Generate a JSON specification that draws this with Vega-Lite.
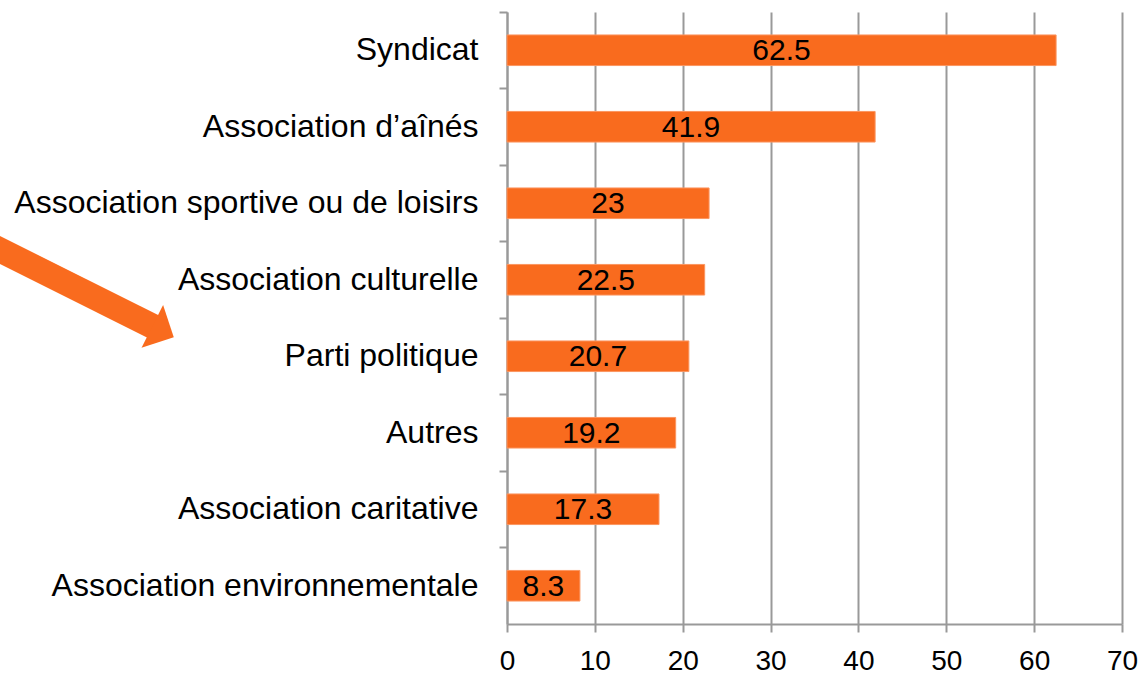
{
  "$schema": "https://vega.github.io/schema/vega-lite/v6.json",
  "autosize": {"type": "none"},
  "padding": {"left": 507, "top": 12, "right": 22, "bottom": 51},
  "width": 615,
  "height": 612,
  "background": "white",
  "config": {
    "view": {"stroke": null},
    "font": "Liberation Sans",
    "axis": {
      "labelFont": "Liberation Sans",
      "labelColor": "black",
      "domainColor": "#999999",
      "domainWidth": 2,
      "tickColor": "#999999",
      "tickWidth": 2,
      "gridColor": "#999999",
      "gridWidth": 2
    }
  },
  "datasets": {
    "bars": [
      {"categorie": "Syndicat", "pct": 62.5},
      {"categorie": "Association d’aînés", "pct": 41.9},
      {"categorie": "Association sportive ou de loisirs", "pct": 23},
      {"categorie": "Association culturelle", "pct": 22.5},
      {"categorie": "Parti politique", "pct": 20.7},
      {"categorie": "Autres\u00a0", "pct": 19.2},
      {"categorie": "Association caritative", "pct": 17.3},
      {"categorie": "Association environnementale", "pct": 8.3}
    ],
    "fleche": [
      {"ax": -58.84, "ay": 3.046},
      {"ax": -40.06, "ay": 4.124}
    ],
    "pointe": [
      {"ax": -39.15, "ay": 4.18}
    ]
  },
  "layer": [
    {
      "data": {"name": "bars"},
      "mark": {"type": "bar", "height": {"band": 0.4}, "color": "#F96B1E", "stroke": "#FB9560", "strokeWidth": 1},
      "encoding": {
        "y": {
          "field": "categorie", "type": "nominal", "sort": null,
          "scale": {"paddingInner": 0, "paddingOuter": 0},
          "axis": {"title": null, "bandPosition": 0, "tickSize": 8, "labelPadding": 21, "labelLimit": 700, "labelFontSize": 32, "grid": false}
        },
        "x": {
          "field": "pct", "type": "quantitative",
          "scale": {"domain": [0, 70], "nice": false},
          "axis": {"title": null, "values": [0, 10, 20, 30, 40, 50, 60, 70], "grid": true, "tickSize": 8, "labelPadding": 15, "labelFontSize": 28, "labelFlush": false}
        }
      }
    },
    {
      "data": {"name": "bars"},
      "mark": {"type": "text", "fontSize": 30, "font": "Liberation Sans", "color": "black", "align": "center", "baseline": "middle", "dy": 1},
      "encoding": {
        "y": {"field": "categorie", "type": "nominal", "sort": null, "scale": {"paddingInner": 0, "paddingOuter": 0}, "axis": null},
        "x": {"field": "pct", "type": "quantitative", "scale": {"domain": [0, 140], "nice": false}, "axis": null},
        "text": {"field": "pct", "type": "quantitative"}
      }
    },
    {
      "data": {"name": "fleche"},
      "mark": {"type": "line", "color": "#F96B1E", "strokeWidth": 25, "strokeCap": "butt"},
      "encoding": {
        "x": {"field": "ax", "type": "quantitative", "scale": {"domain": [0, 70], "nice": false, "zero": false}, "axis": null},
        "y": {"field": "ay", "type": "quantitative", "scale": {"domain": [0, 8], "nice": false, "zero": false, "reverse": true}, "axis": null}
      }
    },
    {
      "data": {"name": "pointe"},
      "mark": {"type": "point", "shape": "M-0.5,-1L0.5,0L-0.5,1Z", "size": 2304, "angle": 26.7, "filled": true, "opacity": 1, "color": "#F96B1E", "strokeWidth": 0},
      "encoding": {
        "x": {"field": "ax", "type": "quantitative", "scale": {"domain": [0, 70], "nice": false, "zero": false}, "axis": null},
        "y": {"field": "ay", "type": "quantitative", "scale": {"domain": [0, 8], "nice": false, "zero": false, "reverse": true}, "axis": null}
      }
    }
  ],
  "resolve": {"scale": {"x": "independent", "y": "independent"}, "axis": {"x": "independent", "y": "independent"}}
}
